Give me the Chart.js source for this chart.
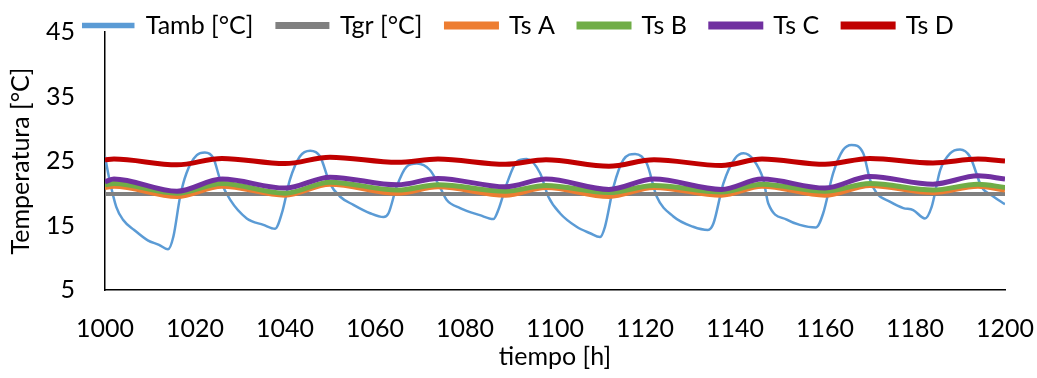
<!DOCTYPE html>
<html>
<head>
<meta charset="utf-8">
<script src="https://cdn.jsdelivr.net/npm/chart.js@4/dist/chart.umd.min.js"></script>
<style>
  html, body { margin: 0; padding: 0; background: #fff; }
  #wrap { width: 1037px; height: 378px; }
</style>
</head>
<body>
<div id="wrap"><canvas id="tempChart" width="1037" height="378"></canvas></div>
<script>
// ===== DATA =====
const xTicks = [1000, 1020, 1040, 1060, 1080, 1100, 1120, 1140, 1160, 1180, 1200];
const yTicks = [5, 15, 25, 35, 45];

// ambient temperature
const tAmbHours = [1000, 1001, 1002.5, 1004, 1006.5, 1009.5, 1012, 1014, 1015.2, 1016.7, 1018.1, 1020.4, 1022.2, 1024.1, 1025.6, 1027.8,
  1031.5, 1035.2, 1037.8, 1039.3, 1041.1, 1043.3, 1045.6, 1047.8, 1050, 1052.2, 1055.2, 1058.9, 1061.9, 1063, 1064.8, 1067,
  1069.3, 1072.2, 1074.4, 1075.9, 1078.9, 1083.3, 1086.3, 1087.4, 1089.3, 1091.5, 1093.7, 1096.7, 1098.5, 1101.1, 1104.8,
  1107.8, 1110, 1111.1, 1113, 1115.2, 1117.8, 1120.4, 1122.6, 1126.3, 1130.7, 1134, 1135.2, 1137.4, 1140, 1141.9, 1144.1,
  1146.3, 1147.4, 1151.5, 1154.4, 1158, 1159.6, 1161.8, 1164, 1165.9, 1168.5, 1170, 1171.5, 1174.4, 1177.4, 1179.6, 1182.2,
  1183.7, 1185.6, 1187.8, 1190, 1192.2, 1194.8, 1197.4, 1200];
const tAmb = [25.7, 22.1, 17.9, 15.9, 14.3, 12.7, 12.0, 11.3, 13.3, 19.5, 23.1, 25.9, 26.3, 25.4, 22.1, 19.0,
  16.1, 15.1, 14.5, 16.9, 22.1, 25.7, 26.6, 25.7, 21.5, 19.5, 18.2, 16.9, 16.3, 16.9, 21.0, 24.1,
  24.6, 23.6, 21.0, 19.0, 17.7, 16.6, 16.0, 17.4, 21.5, 24.9, 25.3, 23.1, 19.5, 16.9, 14.8,
  13.8, 13.2, 14.8, 21.0, 25.2, 26.1, 24.6, 19.5, 16.4, 14.8, 14.3, 15.3, 21.5, 25.4, 26.2, 25.2,
  22.1, 18.4, 15.9, 15.1, 14.7, 16.9, 23.1, 26.7, 27.5, 26.2, 22.1, 20.0, 18.7, 17.7, 17.4, 16.1,
  17.9, 23.6, 26.2, 26.8, 25.7, 21.0, 19.5, 18.3];

// ground temperature (flat)
const tGrHours = [1000, 1200];
const tGr = [19.9, 19.9];

// surface temperatures, sampled at the turning points
const surfHours = [1000, 1002, 1016, 1026, 1040, 1050, 1065, 1074, 1089, 1098, 1112, 1122, 1137, 1146, 1160, 1170, 1184, 1194, 1200];
const tsA = [20.9, 21.1, 19.5, 21.1, 19.7, 21.4, 20.0, 21.0, 19.7, 20.9, 19.5, 20.9, 19.7, 21.1, 19.7, 21.2, 20.1, 21.1, 20.5];
const tsB = [21.3, 21.5, 20.0, 21.5, 20.0, 21.7, 20.5, 21.3, 20.3, 21.2, 20.1, 21.2, 20.2, 21.4, 20.3, 21.5, 20.5, 21.4, 20.9];
const tsC = [21.8, 22.2, 20.3, 22.2, 20.8, 22.5, 21.3, 22.3, 21.0, 22.2, 20.6, 22.2, 20.6, 22.2, 20.8, 22.6, 21.4, 22.7, 22.2];
const tsD = [25.2, 25.3, 24.4, 25.4, 24.6, 25.6, 24.8, 25.3, 24.5, 25.2, 24.2, 25.2, 24.3, 25.3, 24.5, 25.4, 24.7, 25.3, 25.0];

// ===== HELPERS =====
const toPoints = (xs, ys) => xs.map((x, i) => ({ x: x, y: ys[i] }));

function makeSeries(label, xs, ys, color, width, order) {
  return {
    label: label,
    data: toPoints(xs, ys),
    borderColor: color,
    backgroundColor: color,
    borderWidth: width,
    pointRadius: 0,
    cubicInterpolationMode: 'monotone',
    order: order
  };
}

// legend sits half over the plot top, like the original: nudge it up after layout
const legendNudge = {
  id: 'legendNudge',
  afterLayout(chart) {
    const lg = chart.legend;
    if (!lg) return;
    lg.top -= 11;
    lg.bottom += 30;
  }
};

// ===== CHART =====
const FONT = 'Lato, Calibri, "Open Sans", sans-serif';
Chart.defaults.font.family = FONT;
Chart.defaults.font.size = 25;
Chart.defaults.color = '#000';

const ctx = document.getElementById('tempChart').getContext('2d');
new Chart(ctx, {
  type: 'line',
  data: {
    datasets: [
      makeSeries('Tamb [°C]', tAmbHours, tAmb, '#5B9BD5', 2.5, 5),
      makeSeries('Tgr [°C]', tGrHours, tGr, '#808080', 4, 4),
      makeSeries('Ts A', surfHours, tsA, '#ED7D31', 5, 3),
      makeSeries('Ts B', surfHours, tsB, '#70AD47', 5, 2),
      makeSeries('Ts C', surfHours, tsC, '#7030A0', 5, 1),
      makeSeries('Ts D', surfHours, tsD, '#C00000', 5, 0)
    ]
  },
  plugins: [legendNudge],
  options: {
    responsive: false,
    animation: false,
    layout: { padding: { top: 0, right: 0, left: 0, bottom: 6 } },
    plugins: {
      tooltip: { enabled: false },
      legend: {
        position: 'top',
        maxHeight: 32,
        labels: {
          boxWidth: 50,
          boxHeight: 3,
          padding: 24,
          sort: (a, b) => a.datasetIndex - b.datasetIndex
        }
      }
    },
    scales: {
      x: {
        type: 'linear',
        min: 1000,
        max: 1200,
        afterBuildTicks: axis => { axis.ticks = xTicks.map(v => ({ value: v })); },
        afterFit: axis => { axis.height = 82; axis.paddingLeft = 0; axis.paddingRight = 32; },
        grid: { display: false, drawTicks: false },
        border: { display: true, color: '#000', width: 1.5 },
        ticks: { padding: 24, maxRotation: 0, callback: v => String(v) },
        title: { display: true, text: 'tiempo [h]', padding: { top: 0, bottom: 0 } }
      },
      y: {
        min: 5,
        max: 45,
        afterBuildTicks: axis => { axis.ticks = yTicks.map(v => ({ value: v })); },
        afterFit: axis => { axis.width = 105; axis.paddingTop = 0; axis.paddingBottom = 0; },
        grid: { display: false, drawTicks: false },
        border: { display: true, color: '#000', width: 1.5 },
        ticks: { padding: 30, callback: v => String(v) },
        title: { display: true, text: 'Temperatura [°C]', padding: { top: 6, bottom: 0 } }
      }
    }
  }
});
</script>
</body>
</html>
